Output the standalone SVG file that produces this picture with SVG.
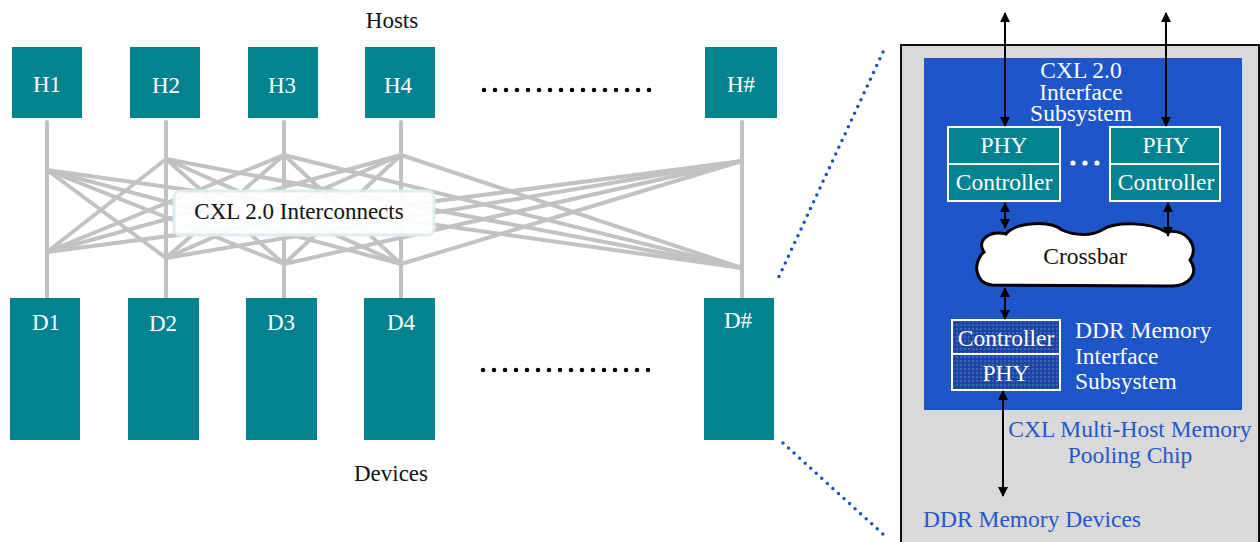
<svg xmlns="http://www.w3.org/2000/svg" width="1260" height="542" viewBox="0 0 1260 542" font-family="Liberation Serif, DejaVu Serif, serif">
<style>
text{font-family:"Liberation Serif","DejaVu Serif",serif;}
.node{fill:#02838f;}
.nl{font-size:23px;fill:#ffffff;text-anchor:middle;}
.bk{font-size:23px;fill:#111111;text-anchor:middle;}
.wt{font-size:23.5px;fill:#ffffff;}
.bl{font-size:23.5px;fill:#2457cc;}
.gl{stroke:#c2c2c2;stroke-width:4;fill:none;stroke-linecap:round;}
.arr{stroke:#000;stroke-width:2;fill:none;marker-start:url(#ah);marker-end:url(#ah);}
.dotk{stroke:#000;stroke-width:4.5;stroke-linecap:round;stroke-dasharray:0 11;fill:none;}
.dotb{stroke:#1d4fc4;stroke-width:3.5;stroke-linecap:round;stroke-dasharray:0 7.5;fill:none;}
.box{fill:#02838f;stroke:#ffffff;stroke-width:2;}
</style>
<defs>
<marker id="ah" viewBox="0 0 10 10" refX="9" refY="5" markerWidth="5" markerHeight="5.5" orient="auto-start-reverse" markerUnits="strokeWidth">
<path d="M0,0 L10,5 L0,10 Z" fill="#000"/>
</marker>
<pattern id="tex" width="4" height="4" patternUnits="userSpaceOnUse">
<rect width="4" height="4" fill="#1d48a6"/>
<circle cx="1" cy="1" r="0.7" fill="#6f8fd6"/>
<circle cx="3" cy="3" r="0.6" fill="#0f2f80"/>
</pattern>
</defs>
<rect width="1260" height="542" fill="#ffffff"/>

<g id="connectors">
<g class="gl">
<line x1="47" y1="122" x2="47" y2="298"/>
<line x1="166" y1="122" x2="166" y2="298"/>
<line x1="284" y1="122" x2="284" y2="298"/>
<line x1="401" y1="122" x2="401" y2="298"/>
<line x1="742" y1="122" x2="742" y2="298"/>
<line x1="47" y1="170" x2="166" y2="258"/>
<line x1="47" y1="170" x2="284" y2="264"/>
<line x1="47" y1="170" x2="401" y2="264"/>
<line x1="47" y1="170" x2="742" y2="268"/>
<line x1="166" y1="159" x2="47" y2="252"/>
<line x1="166" y1="159" x2="284" y2="264"/>
<line x1="166" y1="159" x2="401" y2="264"/>
<line x1="166" y1="159" x2="742" y2="268"/>
<line x1="284" y1="155" x2="47" y2="252"/>
<line x1="284" y1="155" x2="166" y2="258"/>
<line x1="284" y1="155" x2="401" y2="264"/>
<line x1="284" y1="155" x2="742" y2="268"/>
<line x1="401" y1="155" x2="47" y2="252"/>
<line x1="401" y1="155" x2="166" y2="258"/>
<line x1="401" y1="155" x2="284" y2="264"/>
<line x1="401" y1="155" x2="742" y2="268"/>
<line x1="742" y1="161" x2="47" y2="252"/>
<line x1="742" y1="161" x2="166" y2="258"/>
<line x1="742" y1="161" x2="284" y2="264"/>
<line x1="742" y1="161" x2="401" y2="264"/>
</g>
<line class="dotk" x1="484" y1="90" x2="660" y2="90"/>
<line class="dotk" x1="483" y1="370" x2="659" y2="370"/>
<line class="dotb" x1="883" y1="52" x2="776" y2="283"/>
<line class="dotb" x1="783" y1="443" x2="884" y2="535"/>
</g>

<g id="label-hosts"><text class="bk" x="392" y="28">Hosts</text></g>
<g id="label-devices"><text class="bk" x="391" y="481">Devices</text></g>
<g id="label-interconnects">
<rect x="174" y="191" width="260" height="44" rx="6" fill="#ffffff" stroke="#e4ecef" stroke-width="3" opacity="0.95"/>
<text class="bk" x="299" y="219">CXL 2.0 Interconnects</text>
</g>

<g id="H1"><rect class="node" x="12" y="47" width="70" height="71"/><text class="nl" x="47" y="92">H1</text></g>
<g id="H2"><rect class="node" x="130" y="47" width="70" height="71"/><text class="nl" x="166" y="93">H2</text></g>
<g id="H3"><rect class="node" x="248" y="47" width="70" height="71"/><text class="nl" x="282" y="93">H3</text></g>
<g id="H4"><rect class="node" x="365" y="47" width="70" height="71"/><text class="nl" x="398" y="93">H4</text></g>
<g id="Hn"><rect class="node" x="705" y="47" width="72" height="71"/><text class="nl" x="741" y="92">H#</text></g>

<g id="D1"><rect class="node" x="10" y="298" width="70" height="142"/><text class="nl" x="46" y="330">D1</text></g>
<g id="D2"><rect class="node" x="128" y="298" width="71" height="142"/><text class="nl" x="163" y="331">D2</text></g>
<g id="D3"><rect class="node" x="246" y="298" width="71" height="142"/><text class="nl" x="281" y="330">D3</text></g>
<g id="D4"><rect class="node" x="364" y="298" width="71" height="142"/><text class="nl" x="401" y="330">D4</text></g>
<g id="Dn"><rect class="node" x="704" y="298" width="70" height="142"/><text class="nl" x="738" y="328">D#</text></g>

<g id="chip">
<rect x="901" y="45" width="358" height="510" fill="#d9d9d9" stroke="#111" stroke-width="2"/>
<rect x="924" y="58" width="318" height="352" fill="#1e55c9"/>
<text class="wt" x="1081" y="78" text-anchor="middle" font-size="22">CXL 2.0</text>
<text class="wt" x="1081" y="100" text-anchor="middle" font-size="22">Interface</text>
<text class="wt" x="1081" y="121" text-anchor="middle" font-size="22">Subsystem</text>
</g>

<g id="cxl-port-1">
<rect class="box" x="948" y="127" width="112" height="74"/>
<line x1="948" y1="164" x2="1060" y2="164" stroke="#fff" stroke-width="2"/>
<text class="wt" x="1004" y="153" text-anchor="middle">PHY</text>
<text class="wt" x="1004" y="190" text-anchor="middle">Controller</text>
</g>
<g id="port-ellipsis">
<circle cx="1073" cy="163" r="2.6" fill="#fff"/>
<circle cx="1085" cy="163" r="2.6" fill="#fff"/>
<circle cx="1097" cy="163" r="2.6" fill="#fff"/>
</g>
<g id="cxl-port-n">
<rect class="box" x="1110" y="127" width="110" height="74"/>
<line x1="1110" y1="164" x2="1220" y2="164" stroke="#fff" stroke-width="2"/>
<text class="wt" x="1166" y="153" text-anchor="middle">PHY</text>
<text class="wt" x="1166" y="190" text-anchor="middle">Controller</text>
</g>

<g id="crossbar">
<path d="M 992 285 C 975 284, 972 262, 984 252 C 976 240, 990 230, 1006 234 C 1016 222, 1050 220, 1062 230 C 1075 236, 1092 236, 1102 230 C 1116 221, 1150 222, 1166 232 C 1186 228, 1200 246, 1190 260 C 1200 274, 1188 286, 1172 286 Z" fill="#ffffff" stroke="#000" stroke-width="3"/>
<text x="1085" y="264" font-size="23.5" text-anchor="middle" fill="#111">Crossbar</text>
</g>

<g id="ddr-subsystem">
<rect x="952" y="320" width="108" height="70" fill="url(#tex)" stroke="#fff" stroke-width="2"/>
<line x1="952" y1="354" x2="1060" y2="354" stroke="#fff" stroke-width="2"/>
<text class="wt" x="1006" y="346" text-anchor="middle">Controller</text>
<text class="wt" x="1006" y="381" text-anchor="middle">PHY</text>
<text class="wt" x="1075" y="338">DDR Memory</text>
<text class="wt" x="1075" y="364">Interface</text>
<text class="wt" x="1075" y="389">Subsystem</text>
</g>

<g id="chip-label">
<text class="bl" x="1130" y="437" text-anchor="middle">CXL Multi-Host Memory</text>
<text class="bl" x="1130" y="463" text-anchor="middle">Pooling Chip</text>
</g>
<g id="ddr-devices"><text class="bl" x="923" y="527">DDR Memory Devices</text></g>

<g id="chip-arrows">
<line class="arr" x1="1005" y1="13" x2="1005" y2="126"/>
<line class="arr" x1="1166" y1="13" x2="1166" y2="126"/>
<line class="arr" x1="1005" y1="203" x2="1005" y2="228"/>
<line class="arr" x1="1168" y1="203" x2="1168" y2="236"/>
<line class="arr" x1="1005" y1="288" x2="1005" y2="319"/>
<line class="arr" x1="1003" y1="391" x2="1003" y2="496"/>
</g>
</svg>
